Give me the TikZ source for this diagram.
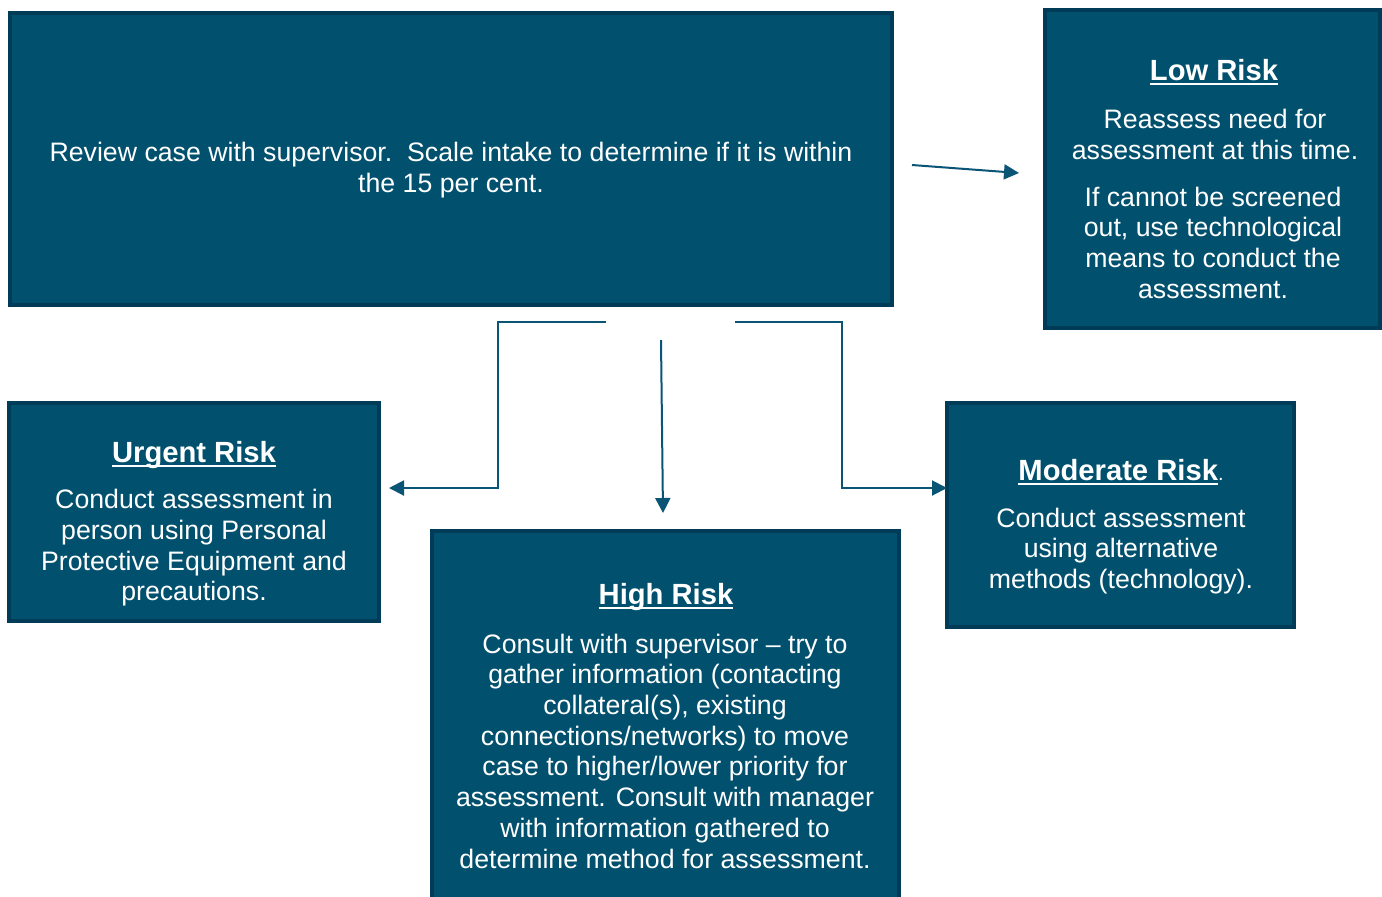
\documentclass[tikz,border=0pt]{standalone}
\usepackage{fontspec}
\setmainfont{Liberation Sans}
\usetikzlibrary{arrows.meta}
\definecolor{boxfill}{HTML}{00506E}
\definecolor{boxline}{HTML}{003C57}
\definecolor{arrowc}{HTML}{0A5475}
\newcommand\ttlul[1]{\setbox0\hbox{#1}\rlap{\smash{\rule[-2.6pt]{\wd0}{1.3pt}}}\box0}
\begin{document}
\begin{tikzpicture}[x=0.5pt,y=-0.5pt,
  box/.style={draw=boxline, fill=boxfill, line width=2pt, inner sep=0pt},
  txt/.style={text=white, align=center, inner sep=0pt, font=\fontsize{13.35}{15.35}\selectfont},
  ttl/.style={text=white, inner sep=0pt, anchor=base, font=\fontsize{14.6}{17}\selectfont\bfseries},
  arr/.style={draw=arrowc, line width=1pt, -{Triangle[length=7.5pt,width=7.5pt]}},
  ln/.style={draw=arrowc, line width=1pt}]
\useasboundingbox (0,0) rectangle (1382,896);
% boxes
\node[box, minimum width=441pt, minimum height=146pt] (main) at (451,159) {};
\node[box, minimum width=167.5pt, minimum height=159pt] (low) at (1212.5,169) {};
\node[box, minimum width=185pt, minimum height=109pt] (urgent) at (194,512) {};
\node[box, minimum width=233.5pt, minimum height=186pt] (high) at (665.5,717) {};
\node[box, minimum width=173.5pt, minimum height=112pt] (moderate) at (1120.5,515) {};
% texts
\node[txt] (maintxt) at (451,170) {Review case with supervisor.\ \ Scale intake to determine if it is within\\the 15 per cent.};
\node[ttl] (lowt) at (1214,80) {\ttlul{Low Risk}};
\node[txt] (low1) at (1215,134.5) {Reassess need for\\assessment at this time.};
\node[txt] (low2) at (1213,242.5) {If cannot be screened\\out, use technological\\means to conduct the\\assessment.};
\node[ttl] (urgentt) at (194,462) {\ttlul{Urgent Risk}};
\node[txt] (urgent1) at (194,548) {Conduct assessment in\\person using Personal\\Protective Equipment and\\precautions.};
\node[ttl] (hight) at (666,604) {\ttlul{High Risk}};
\node[txt] (high1) at (665,751) {Consult with supervisor -- try to\\gather information (contacting\\collateral(s), existing\\connections/networks) to move\\case to higher/lower priority for\\assessment. Consult with manager\\with information gathered to\\determine method for assessment.};
\node[ttl] (moderatet) at (1121,480) {\ttlul{Moderate Risk}{\mdseries\fontsize{10}{12}\selectfont.}};
\node[txt] (moderate1) at (1121,551) {Conduct assessment\\using alternative\\methods (technology).};
% connectors
\coordinate (a1s) at (912,165);
\coordinate (a1e) at (1019,173);
\draw[arr] (a1s) -- (a1e);
\coordinate (l0) at (606,322);
\coordinate (kneeL) at (498,400);
\coordinate (l1) at (389,488);
\draw[arr] (l0) -| (kneeL) |- (l1);
\coordinate (r0) at (735,322);
\coordinate (kneeR) at (842,400);
\coordinate (r1) at (947,488);
\draw[arr] (r0) -| (kneeR) |- (r1);
\coordinate (m0) at (661,340);
\coordinate (m1) at (663,513);
\draw[arr] (m0) -- (m1);
\end{tikzpicture}
\end{document}
